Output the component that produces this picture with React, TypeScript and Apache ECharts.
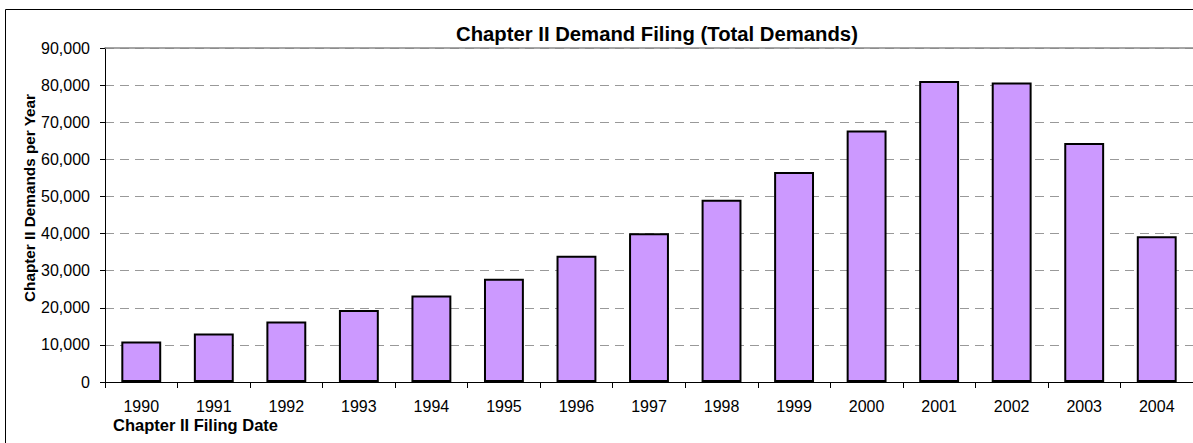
import React, { useEffect, useRef } from "react";
import * as echarts from "echarts";

const categories = ["1990", "1991", "1992", "1993", "1994", "1995", "1996", "1997", "1998", "1999", "2000", "2001", "2002", "2003", "2004"];
const demands = [10900, 13100, 16300, 19400, 23300, 27800, 34000, 40100, 49100, 56600, 67800, 81100, 80700, 64400, 39300];
const yTicks = { min: 0, max: 90000, interval: 10000 };

const FONT = "Liberation Sans, Arial, sans-serif";

export default function App() {
  const ref = useRef<HTMLDivElement>(null);
  useEffect(() => {
    const chart = echarts.init(ref.current!, null, { renderer: "svg" });
    chart.setOption({
      animation: false,
      backgroundColor: "#fff",
      textStyle: { fontFamily: FONT },
      grid: { left: 105, top: 48, right: -2, bottom: 61, containLabel: false },
      graphic: [
        {
          type: "rect",
          shape: { x: 5.5, y: 9.5, width: 1200, height: 450 },
          style: { fill: "none", stroke: "#000", lineWidth: 1 },
          silent: true,
        },
        {
          type: "text",
          x: 456,
          y: 24,
          style: { text: "Chapter II Demand Filing (Total Demands)", font: `bold 20.3px ${FONT}`, fill: "#000" },
        },
        {
          type: "text",
          x: 21.5,
          y: 302,
          rotation: Math.PI / 2,
          style: { text: "Chapter II Demands per Year", font: `bold 15.3px ${FONT}`, fill: "#000", textVerticalAlign: "top" },
        },
        {
          type: "text",
          x: 113,
          y: 416,
          style: { text: "Chapter II Filing Date", font: `bold 16.5px ${FONT}`, fill: "#000" },
        },
      ],
      xAxis: [
        {
          type: "category",
          data: categories,
          axisLine: { lineStyle: { color: "#000", width: 1 } },
          axisTick: { show: true, length: 6, alignWithLabel: false, lineStyle: { color: "#000" } },
          axisLabel: { color: "#000", fontSize: 16, margin: 16, fontFamily: FONT },
          splitLine: { show: false },
        },
        {
          type: "category",
          data: categories,
          position: "top",
          axisLine: { show: true, lineStyle: { color: "#888", width: 1.5 } },
          axisTick: { show: false },
          axisLabel: { show: false },
          splitLine: { show: false },
        },
      ],
      yAxis: {
        type: "value",
        min: yTicks.min,
        max: yTicks.max,
        interval: yTicks.interval,
        axisLine: { show: true, lineStyle: { color: "#000", width: 1 } },
        axisTick: { show: true, length: 5, lineStyle: { color: "#000" } },
        axisLabel: {
          color: "#000",
          fontSize: 16,
          margin: 15,
          fontFamily: FONT,
          formatter: (v: number) => v.toLocaleString("en-US"),
        },
        splitLine: { show: true, lineStyle: { color: "#999", type: [9, 6], width: 1 } },
      },
      series: [
        {
          type: "bar",
          data: demands,
          barWidth: "55%",
          itemStyle: { color: "#CC99FF", borderColor: "#000", borderWidth: 2 },
        },
      ],
    });
    return () => chart.dispose();
  }, []);
  return <div ref={ref} style={{ position: "fixed", left: 0, top: 0, width: 1193, height: 443 }} />;
}
